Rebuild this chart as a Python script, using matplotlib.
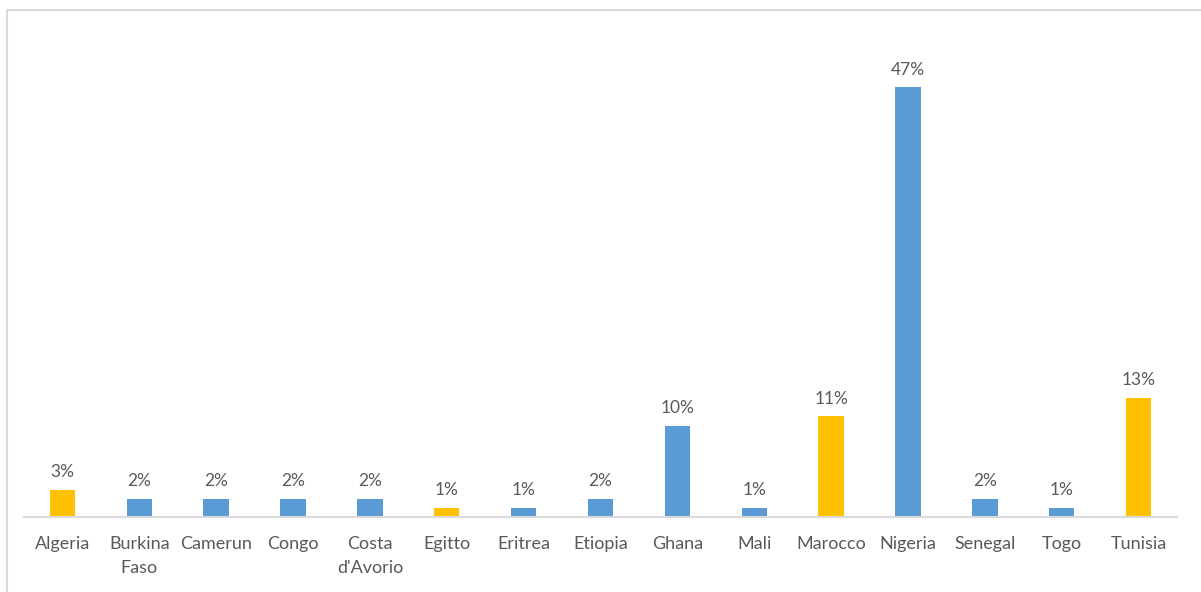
import matplotlib.pyplot as plt
from matplotlib.patches import Rectangle

countries = ["Algeria", "Burkina\nFaso", "Camerun", "Congo", "Costa\nd'Avorio", "Egitto",
             "Eritrea", "Etiopia", "Ghana", "Mali", "Marocco", "Nigeria", "Senegal", "Togo", "Tunisia"]
shares = [3, 2, 2, 2, 2, 1, 1, 2, 10, 1, 11, 47, 2, 1, 13]
north_africa = ["Algeria", "Egitto", "Marocco", "Tunisia"]

BLUE = "#5B9BD5"
GOLD = "#FFC000"
TEXT = "#595959"

plt.rcParams["font.family"] = ["Lato", "DejaVu Sans"]

fig = plt.figure(figsize=(12.01, 5.92), dpi=100)
# chart frame, partly cut at the right and bottom edges
fig.patches.append(Rectangle((7 / 1201, -0.1), 1.2, 1.1 - 10 / 592, transform=fig.transFigure,
                             fill=False, edgecolor="#D9D9D9", linewidth=1.5))

ax = fig.add_axes([24 / 1201, 75 / 592, (1177 - 24) / 1201, (517 - 60) / 592])
colors = [GOLD if c in north_africa else BLUE for c in countries]
x = range(len(countries))
bars = ax.bar(x, shares, width=0.33, color=colors)

for xi, v in zip(x, shares):
    ax.annotate("{}%".format(v), (xi, v), xytext=(0, 7), textcoords="offset points",
                ha="center", va="bottom", fontsize=12.5, color=TEXT)

ax.set_xlim(-0.5, len(countries) - 0.5)
ax.set_ylim(0, 50)
ax.set_yticks([])
ax.set_xticks(list(x))
ax.set_xticklabels(countries, fontsize=13, color=TEXT, linespacing=1.55)
ax.tick_params(axis="x", length=0, pad=14)
for side in ["top", "left", "right"]:
    ax.spines[side].set_visible(False)
ax.spines["bottom"].set_color("#D9D9D9")
ax.spines["bottom"].set_linewidth(1.5)

plt.savefig("out.png", dpi=100)
